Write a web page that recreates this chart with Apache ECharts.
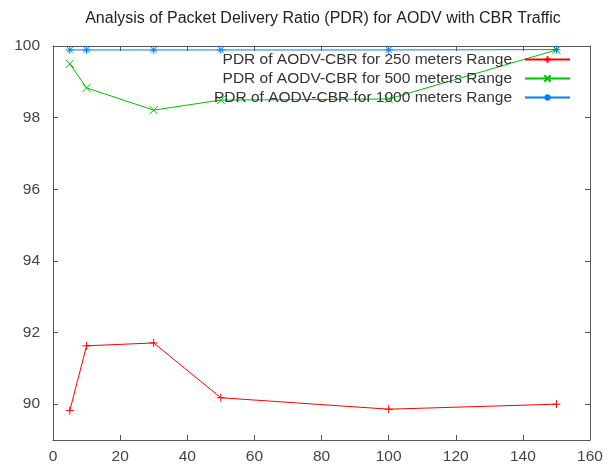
<!DOCTYPE html>
<html><head><meta charset="utf-8">
<script src="https://cdn.jsdelivr.net/npm/echarts@6/dist/echarts.min.js"></script>
<style>html,body{margin:0;padding:0;background:#fff}#c{width:611px;height:469px}</style>
</head><body><div id="c"></div>
<script>
const titleText = 'Analysis of Packet Delivery Ratio (PDR) for AODV with CBR Traffic';
const xValues = [5, 10, 30, 50, 100, 150];
const seriesNames = ['PDR of AODV-CBR for 250 meters Range','PDR of AODV-CBR for 500 meters Range','PDR of AODV-CBR for 1000 meters Range'];
const pdr250 = [89.82, 91.63, 91.71, 90.18, 89.86, 90.0];
const pdr500 = [99.50, 98.83, 98.21, 98.49, 98.52, 99.89];
const pdr1000 = [99.89, 99.89, 99.89, 99.89, 99.89, 99.90];
const xTicks = [0, 20, 40, 60, 80, 100, 120, 140, 160];
const yTicks = [90, 92, 94, 96, 98, 100];

const colors = ['#ff0000', '#00c000', '#0080ff'];
const symbols = [
  'path://M0,5L10,5M5,0L5,10',
  'path://M1,1L9,9M9,1L1,9',
  'path://M0,5L10,5M5,0L5,10M1.5,1.5L8.5,8.5M8.5,1.5L1.5,8.5'
];
const allData = [pdr250, pdr500, pdr1000];
const font = 'Liberation Sans, Arial, sans-serif';
const chart = echarts.init(document.getElementById('c'), null, {renderer: 'canvas'});
const axisLineStyle = {color: '#555', width: 1};
const series = allData.map((d, i) => ({
  name: seriesNames[i],
  type: 'line',
  data: xValues.map((x, j) => [x, d[j]]),
  symbol: symbols[i],
  symbolSize: 8,
  showSymbol: true,
  color: colors[i],
  lineStyle: {color: colors[i], width: 1},
  itemStyle: {color: 'none', borderColor: colors[i], borderWidth: 1},
  animation: false,
  z: 2 + i
}));
const legendCenters = [59.5, 78.5, 97.5];
const legends = seriesNames.map((n, i) => ({
  data: [n],
  right: 40,
  top: legendCenters[i] - 8,
  padding: 0,
  align: 'right',
  itemWidth: 45,
  itemHeight: 8,
  itemGap: 0,
  textStyle: {fontFamily: font, fontSize: 15.5, lineHeight: 16, color: '#333', padding: [0, 8, 0, 0]},
  selectedMode: false
}));
chart.setOption({
  backgroundColor: '#fff',
  animation: false,
  title: {text: titleText, left: 318, textAlign: 'center', top: 6,
    textStyle: {fontFamily: font, fontSize: 16, fontWeight: 'normal', color: '#222'}},
  legend: legends,
  grid: {left: 53, right: 21, top: 46, bottom: 29},
  xAxis: [
    {type: 'value', position: 'bottom', min: 0, max: 160, interval: 20,
      axisLine: {show: true, onZero: false, lineStyle: axisLineStyle},
      axisTick: {show: true, inside: true, length: 5, lineStyle: axisLineStyle},
      axisLabel: {fontFamily: font, fontSize: 15.5, color: '#444', margin: 9, customValues: xTicks},
      splitLine: {show: false}},
    {type: 'value', position: 'top', min: 0, max: 160, interval: 20,
      axisLine: {show: true, onZero: false, lineStyle: axisLineStyle},
      axisTick: {show: true, inside: true, length: 5, lineStyle: axisLineStyle},
      axisLabel: {show: false}, splitLine: {show: false}}
  ],
  yAxis: [
    {type: 'value', position: 'left', min: 89, max: 100,
      axisLine: {show: true, onZero: false, lineStyle: axisLineStyle},
      axisTick: {show: true, inside: true, length: 5, lineStyle: axisLineStyle, customValues: yTicks},
      axisLabel: {fontFamily: font, fontSize: 15.5, color: '#444', margin: 13, customValues: yTicks},
      splitLine: {show: false}},
    {type: 'value', position: 'right', min: 89, max: 100,
      axisLine: {show: true, onZero: false, lineStyle: axisLineStyle},
      axisTick: {show: true, inside: true, length: 5, lineStyle: axisLineStyle, customValues: yTicks},
      axisLabel: {show: false}, splitLine: {show: false}}
  ],
  series: series
});
</script></body></html>
